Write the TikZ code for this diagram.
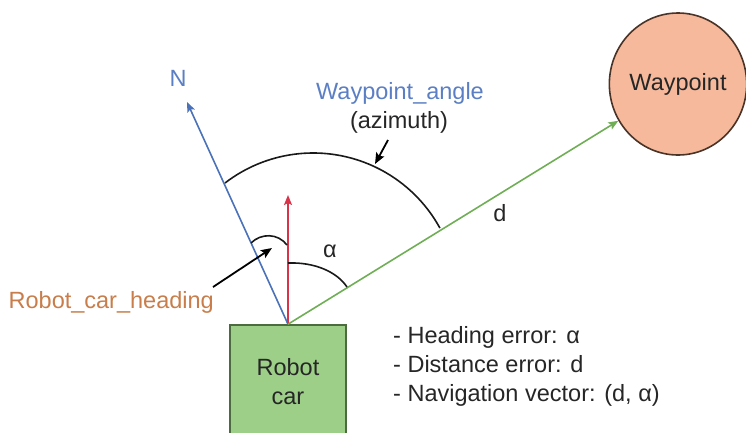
\documentclass[tikz,border=0pt]{standalone}
\usepackage{fontspec}
\setmainfont{Liberation Sans}
\usetikzlibrary{arrows.meta,shapes.geometric}
\definecolor{nblue}{HTML}{4B72B8}
\definecolor{nbluetxt}{HTML}{5B7FC4}
\definecolor{hred}{HTML}{D9334A}
\definecolor{dgreen}{HTML}{6FAE55}
\definecolor{carfill}{HTML}{9DCF88}
\definecolor{carline}{HTML}{4C6B3F}
\definecolor{wpfill}{HTML}{F6B99C}
\definecolor{wpline}{HTML}{4A3428}
\definecolor{htxt}{HTML}{C87D4A}
\begin{document}
\begin{tikzpicture}[x=1pt,y=-1pt,
  every node/.style={font=\fontsize{23.5}{29}\selectfont, inner sep=0pt},
  vec/.style={line width=1.6pt, -{Stealth[length=10pt,width=8pt,inset=2pt]}},
  anglearc/.style={line width=1.6pt, black!90},
  pointer/.style={line width=1.8pt, black, -{Stealth[length=11pt,width=9pt,inset=2pt]}}]
\useasboundingbox (0,0) rectangle (746,432);
% nodes
\node[draw=carline, fill=carfill, line width=1.6pt, minimum width=116pt, minimum height=114pt,
      align=center, text=black!85] (car) at (288,382) {Robot\\car};
\node[ellipse, draw=wpline, fill=wpfill, line width=1.6pt, minimum width=124pt, minimum height=142pt,
      text=black!85] (wp) at (678,84) {Waypoint};
\coordinate (O) at (car.north);
\coordinate (Ntip) at (187,102);
\coordinate (Htip) at (288,195);
% vectors
\draw[vec, nblue] (O) -- (Ntip);
\draw[vec, hred] (O) -- (Htip);
\draw[vec, dgreen] (O) -- (wp);
% angle arcs
\draw[anglearc] (225,183) arc[start angle=-127.6, end angle=-28.7, radius=144.5];
\draw[anglearc] (251,243) .. controls (261,233) and (278,233) .. (287,245);
\draw[anglearc] (288,263) .. controls (315,262) and (337,272) .. (347,287);
% labels
\node[text=nbluetxt] (nlab) at (178,78) {N};
\node[text=nbluetxt] (walab) at (400,93) {Waypoint\_angle};
\node[text=black!85] (azlab) at (399,122) {(azimuth)};
\node[text=black!85] (dlab) at (500,213) {d};
\node[text=black!85] (alab) at (330,251) {α};
\node[text=htxt, anchor=east] (hlab) at (214,302) {Robot\_car\_heading};
\node[text=black!85, align=left, anchor=west] (list) at (393,366)
  {- Heading error: α\\- Distance error: d\\- Navigation vector: (d, α)};
% pointers
\coordinate (azTip) at (375,164);
\coordinate (hTip) at (272,248);
\draw[pointer] (388,140) -- (azTip);
\draw[pointer] (213,287) -- (hTip);
\end{tikzpicture}
\end{document}
